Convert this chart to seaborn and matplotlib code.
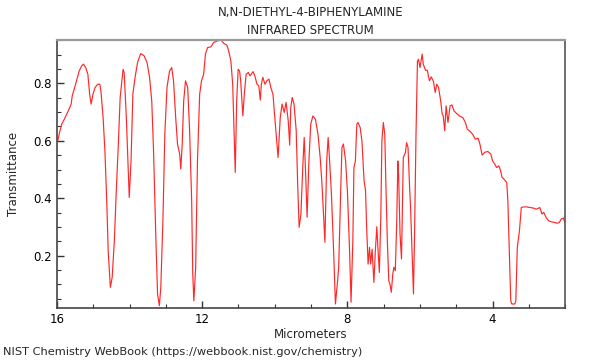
import seaborn as sns
import matplotlib
matplotlib.use("Agg")
import matplotlib.pyplot as plt
from matplotlib.ticker import MultipleLocator
import pandas as pd

# --- spectrum values (wavelength in micrometers) ---
wavelength = [
    15.98, 15.93, 15.87, 15.80, 15.69, 15.61, 15.58, 15.50, 15.45, 15.39,
    15.32, 15.27, 15.21, 15.15, 15.10, 15.06, 15.01, 14.95, 14.88, 14.82,
    14.79, 14.73, 14.68, 14.63, 14.59, 14.53, 14.48, 14.42, 14.37, 14.31,
    14.26, 14.18, 14.15, 14.09, 14.04, 14.01, 13.96, 13.91, 13.85, 13.78,
    13.71, 13.69, 13.60, 13.52, 13.45, 13.39, 13.34, 13.28, 13.23, 13.18,
    13.14, 13.08, 13.03, 12.97, 12.90, 12.84, 12.79, 12.73, 12.68, 12.62,
    12.59, 12.55, 12.51, 12.46, 12.40, 12.35, 12.29, 12.26, 12.23, 12.18,
    12.13, 12.07, 12.02, 11.96, 11.91, 11.85, 11.76, 11.69, 11.62, 11.49,
    11.40, 11.32, 11.27, 11.21, 11.16, 11.12, 11.09, 11.05, 11.01, 10.97,
    10.94, 10.88, 10.84, 10.79, 10.73, 10.68, 10.60, 10.55, 10.49, 10.44,
    10.40, 10.37, 10.33, 10.27, 10.22, 10.16, 10.11, 10.05, 10.00, 9.94,
    9.91, 9.85, 9.80, 9.74, 9.69, 9.63, 9.59, 9.56, 9.52, 9.47,
    9.41, 9.37, 9.33, 9.28, 9.23, 9.19, 9.15, 9.11, 9.06, 9.01,
    8.95, 8.88, 8.81, 8.75, 8.70, 8.62, 8.57, 8.53, 8.49, 8.44,
    8.38, 8.33, 8.27, 8.24, 8.18, 8.15, 8.11, 8.05, 8.00, 7.94,
    7.90, 7.85, 7.82, 7.78, 7.74, 7.71, 7.65, 7.60, 7.54, 7.50,
    7.47, 7.43, 7.39, 7.36, 7.32, 7.27, 7.23, 7.19, 7.16, 7.12,
    7.08, 7.05, 7.01, 6.97, 6.94, 6.90, 6.86, 6.83, 6.79, 6.75,
    6.72, 6.68, 6.64, 6.61, 6.59, 6.55, 6.51, 6.48, 6.46, 6.40,
    6.37, 6.33, 6.29, 6.26, 6.22, 6.18, 6.15, 6.11, 6.07, 6.04,
    6.00, 5.94, 5.91, 5.85, 5.80, 5.74, 5.69, 5.63, 5.58, 5.54,
    5.49, 5.43, 5.39, 5.36, 5.32, 5.28, 5.23, 5.17, 5.12, 5.06,
    4.99, 4.92, 4.82, 4.75, 4.70, 4.62, 4.55, 4.48, 4.40, 4.35,
    4.29, 4.26, 4.22, 4.13, 4.05, 4.00, 3.94, 3.89, 3.83, 3.78,
    3.74, 3.69, 3.61, 3.58, 3.54, 3.50, 3.47, 3.39, 3.36, 3.32,
    3.26, 3.21, 3.15, 3.06, 2.97, 2.88, 2.79, 2.70, 2.64, 2.59,
    2.53, 2.46, 2.38, 2.29, 2.22, 2.16, 2.11, 2.05, 2.01,
]
transmittance = [
    0.600, 0.629, 0.658, 0.675, 0.704, 0.728, 0.757, 0.791, 0.815, 0.843,
    0.861, 0.867, 0.855, 0.832, 0.762, 0.728, 0.762, 0.786, 0.797, 0.797,
    0.774, 0.681, 0.565, 0.391, 0.217, 0.090, 0.125, 0.252, 0.415, 0.589,
    0.751, 0.849, 0.838, 0.681, 0.507, 0.403, 0.530, 0.762, 0.821, 0.873,
    0.899, 0.904, 0.896, 0.873, 0.821, 0.739, 0.565, 0.275, 0.067, 0.026,
    0.090, 0.334, 0.623, 0.786, 0.843, 0.855, 0.809, 0.681, 0.589, 0.554,
    0.502, 0.589, 0.739, 0.809, 0.786, 0.647, 0.391, 0.136, 0.043, 0.160,
    0.530, 0.762, 0.809, 0.832, 0.902, 0.925, 0.927, 0.942, 0.946, 0.952,
    0.939, 0.933, 0.913, 0.878, 0.797, 0.623, 0.490, 0.739, 0.849, 0.843,
    0.809, 0.687, 0.762, 0.832, 0.838, 0.826, 0.841, 0.826, 0.797, 0.791,
    0.742, 0.797, 0.821, 0.797, 0.809, 0.815, 0.786, 0.762, 0.681, 0.589,
    0.542, 0.681, 0.728, 0.699, 0.734, 0.670, 0.585, 0.716, 0.751, 0.728,
    0.635, 0.449, 0.299, 0.345, 0.507, 0.612, 0.484, 0.334, 0.530, 0.658,
    0.687, 0.675, 0.623, 0.542, 0.449, 0.247, 0.530, 0.612, 0.530, 0.415,
    0.217, 0.032, 0.113, 0.160, 0.449, 0.577, 0.589, 0.530, 0.426, 0.217,
    0.038, 0.252, 0.507, 0.530, 0.658, 0.664, 0.647, 0.600, 0.461, 0.426,
    0.299, 0.171, 0.229, 0.171, 0.223, 0.107, 0.217, 0.301, 0.229, 0.142,
    0.334, 0.600, 0.664, 0.623, 0.449, 0.252, 0.113, 0.102, 0.073, 0.136,
    0.160, 0.148, 0.322, 0.530, 0.484, 0.275, 0.189, 0.391, 0.542, 0.560,
    0.594, 0.577, 0.449, 0.368, 0.217, 0.067, 0.275, 0.623, 0.878, 0.884,
    0.855, 0.902, 0.867, 0.846, 0.846, 0.809, 0.823, 0.807, 0.768, 0.797,
    0.786, 0.739, 0.693, 0.687, 0.635, 0.722, 0.664, 0.722, 0.725, 0.704,
    0.695, 0.687, 0.681, 0.664, 0.641, 0.633, 0.623, 0.606, 0.609, 0.589,
    0.551, 0.554, 0.560, 0.563, 0.554, 0.530, 0.519, 0.507, 0.513, 0.496,
    0.473, 0.467, 0.455, 0.391, 0.217, 0.043, 0.032, 0.032, 0.043, 0.229,
    0.287, 0.368, 0.370, 0.370, 0.368, 0.366, 0.362, 0.368, 0.345, 0.351,
    0.334, 0.322, 0.318, 0.316, 0.313, 0.316, 0.328, 0.331, 0.316,
]

title_lines = ["N,N-DIETHYL-4-BIPHENYLAMINE", "INFRARED SPECTRUM"]
x_label = "Micrometers"
y_label = "Transmittance"
footer = "NIST Chemistry WebBook (https://webbook.nist.gov/chemistry)"
x_ticks = [16, 12, 8, 4]
y_ticks = [0.2, 0.4, 0.6, 0.8]

df = pd.DataFrame({"um": wavelength, "T": transmittance})

sns.set_style("ticks")
plt.rcParams["font.family"] = ["DejaVu Sans"]

fig = plt.figure(figsize=(6, 3.6), dpi=100)
ax = fig.add_axes([0.095, 0.1436, 0.847, 0.746])

sns.lineplot(data=df, x="um", y="T", sort=False, estimator=None,
             color="#ff2828", linewidth=0.85, ax=ax)

ax.set_xlim(16, 2)
ax.set_ylim(0.017, 0.952)
ax.set_xticks(x_ticks)
ax.set_xticklabels([str(t) for t in x_ticks])
ax.set_yticks(y_ticks)
ax.set_yticklabels([f"{t:.1f}" for t in y_ticks])
ax.xaxis.set_minor_locator(MultipleLocator(1))
ax.yaxis.set_minor_locator(MultipleLocator(0.05))
ax.tick_params(which="both", direction="in", top=False, right=False,
               labelsize=8.5, colors="#333333", labelcolor="black")
ax.tick_params(which="major", length=5, width=1)
ax.tick_params(which="minor", length=3, width=0.8)

for side in ["left", "bottom"]:
    ax.spines[side].set_color("#444444")
    ax.spines[side].set_linewidth(1.2)
ax.spines["top"].set_visible(True)
ax.spines["right"].set_visible(True)
ax.spines["top"].set_color("#999999")
ax.spines["top"].set_linewidth(1.6)
ax.spines["right"].set_color("#555555")
ax.spines["right"].set_linewidth(1.2)

ax.set_xlabel(x_label, fontsize=8.5, labelpad=1)
ax.set_ylabel(y_label, fontsize=8.5, labelpad=10)

fig.text(0.518, 0.965, title_lines[0], ha="center", va="center", fontsize=8.5)
fig.text(0.518, 0.915, title_lines[1], ha="center", va="center", fontsize=8.5)
fig.text(0.005, 0.022, footer, ha="left", va="center", fontsize=8.2)

fig.savefig("out.png", dpi=100)
